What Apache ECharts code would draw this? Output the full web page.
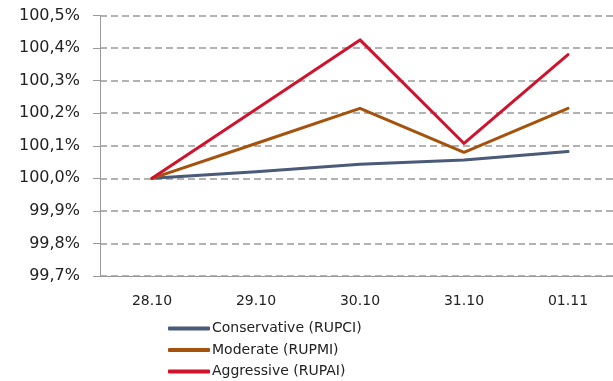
<!DOCTYPE html>
<html>
<head>
<meta charset="utf-8">
<script src="https://cdn.jsdelivr.net/npm/echarts@6/dist/echarts.min.js"></script>
<style>
  html, body { margin: 0; padding: 0; background: #fff; }
  #chart { width: 613px; height: 381px; }
</style>
</head>
<body>
<div id="chart"></div>
<script>
// Dates on the category axis
const dates = ['28.10', '29.10', '30.10', '31.10', '01.11'];

// Index values, % of the 28.10 level
const conservative = [100.00, 100.02, 100.043, 100.056, 100.082];
const moderate     = [100.00, 100.107, 100.215, 100.080, 100.215];
const aggressive   = [100.00, 100.212, 100.425, 100.107, 100.380];

// Value axis range and step, %
const yMin = 99.7;
const yMax = 100.5;
const yStep = 0.1;

const seriesNames = ['Conservative (RUPCI)', 'Moderate (RUPMI)', 'Aggressive (RUPAI)'];
const seriesColors = ['#4b5a78', '#a5520c', '#d0122d'];
const seriesData = [conservative, moderate, aggressive];

const chart = echarts.init(document.getElementById('chart'), null, { renderer: 'canvas' });

chart.setOption({
  animation: false,
  backgroundColor: '#ffffff',
  // plot area runs a little past the right edge of the page
  grid: { left: 100, top: 15.5, width: 520, height: 260.5, containLabel: false, outerBoundsMode: 'none' },
  legend: {
    orient: 'vertical',
    left: 163,
    top: 315,
    height: 120,
    itemWidth: 42,
    itemHeight: 4,
    itemGap: 4.5,
    icon: 'roundRect',
    textStyle: { fontFamily: 'DejaVu Sans', fontSize: 14, color: '#222', lineHeight: 17, padding: [0, 0, 0, -3] },
    data: seriesNames
  },
  xAxis: {
    type: 'category',
    data: dates,
    boundaryGap: true,
    axisLine: { lineStyle: { color: '#9a9a9a', width: 1 } },
    axisTick: { show: false },
    axisLabel: { fontFamily: 'DejaVu Sans', fontSize: 14, color: '#222', margin: 18 },
    splitLine: { show: false }
  },
  yAxis: {
    type: 'value',
    min: yMin,
    max: yMax,
    interval: yStep,
    axisLine: { show: true, lineStyle: { color: '#9a9a9a', width: 1 } },
    axisTick: { show: true, length: 7, lineStyle: { color: '#9a9a9a', width: 1 } },
    axisLabel: {
      fontFamily: 'DejaVu Sans',
      fontSize: 16,
      color: '#222',
      margin: 20,
      formatter: v => v.toFixed(1).replace('.', ',') + '%'
    },
    splitLine: { show: true, lineStyle: { color: '#999999', width: 1.6, type: [7, 4] } }
  },
  series: seriesData.map((d, i) => ({
    name: seriesNames[i],
    type: 'line',
    data: d,
    symbol: 'none',
    color: seriesColors[i],
    lineStyle: { color: seriesColors[i], width: 3, cap: 'round', join: 'round' },
    z: 3 + i
  }))
});
</script>
</body>
</html>
